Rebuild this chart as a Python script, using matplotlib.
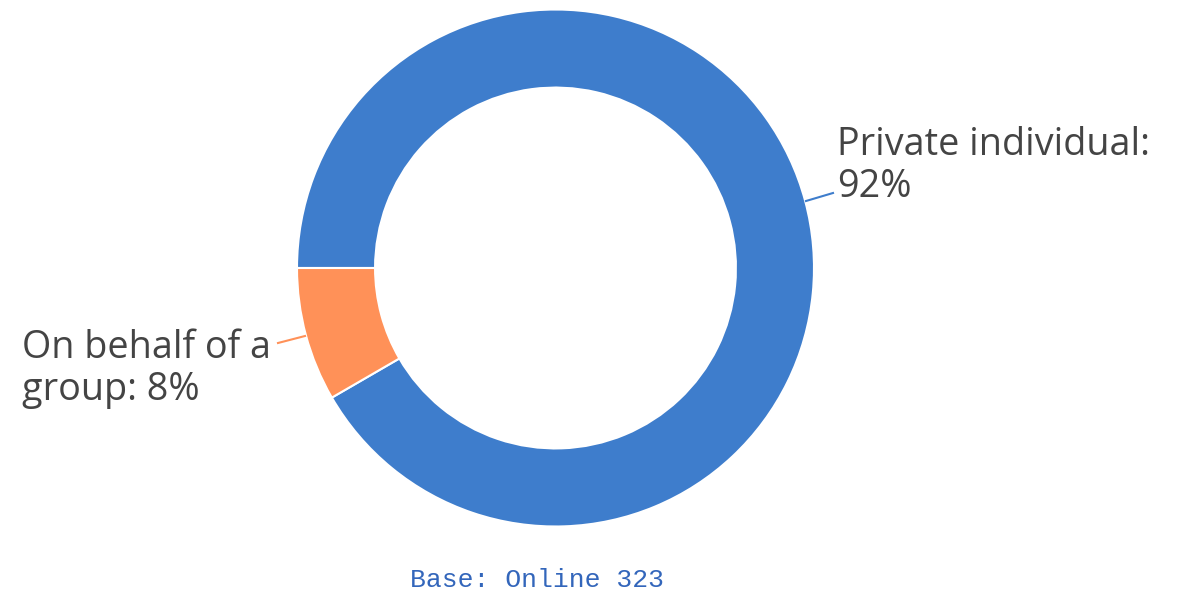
import matplotlib.pyplot as plt

labels = ["Private individual", "On behalf of a group"]
counts = [296, 27]  # base 323 respondents
colors = ["#3e7dcc", "#ff9158"]
label_text = ["Private individual:\n92%", "On behalf of a\ngroup: 8%"]
base_note = "Base: Online 323"

W, H = 1183, 594
fig = plt.figure(figsize=(W / 100, H / 100), dpi=100)
ax = fig.add_axes([0, 0, 1, 1])

cx, cy, r = 555.5, H - 268, 258.5
ax.pie(counts, colors=colors, center=(cx, cy), radius=r, startangle=180,
       counterclock=False, frame=True,
       wedgeprops=dict(width=r * 0.302, edgecolor="white", linewidth=1.5))
ax.set_xlim(0, W)
ax.set_ylim(0, H)
ax.set_aspect("equal")
ax.axis("off")

# leader lines
ax.plot([806, 833], [H - 201, H - 193], color=colors[0], lw=1.5)
ax.plot([278, 305], [H - 343, H - 336], color=colors[1], lw=1.5)

font = "Open Sans"
ax.text(837, H - 126, label_text[0], fontsize=27.2, family=font, color="#444444",
        ha="left", va="top", linespacing=1.15)
ax.text(22, H - 329, label_text[1], fontsize=27.2, family=font, color="#444444",
        ha="left", va="top", linespacing=1.15)

ax.text(537, H - 587, base_note, fontsize=19, family="Liberation Mono",
        color="#3366bb", ha="center", va="baseline")

fig.savefig("out.png", dpi=100)
